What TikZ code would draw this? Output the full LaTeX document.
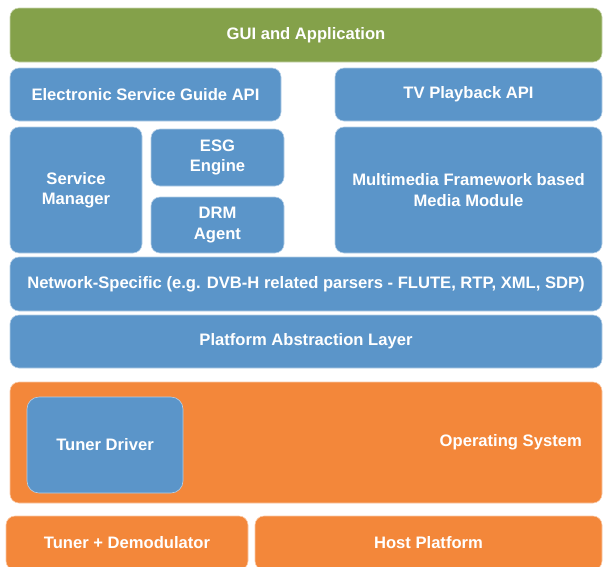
\documentclass[tikz,border=0pt]{standalone}
\usepackage{fontspec}
\setmainfont{Liberation Sans}
\usetikzlibrary{positioning}
\definecolor{guigreen}{HTML}{84A14A}
\definecolor{swblue}{HTML}{5B95C9}
\definecolor{hworange}{HTML}{F3873A}
\begin{document}
\begin{tikzpicture}[x=1pt,y=-1pt,
                    box/.style={rectangle,rounded corners=9pt,draw=white!55!#1,line width=0.6pt,fill=#1,
                                text=white,inner sep=0pt,align=center,
                                font=\fontsize{16.6}{20.5}\selectfont\bfseries},
                    gui/.style={box=guigreen},
                    sw/.style={box=swblue},
                    hw/.style={box=hworange}]

  \clip (0,0) rectangle (603,566);
  \fill[white] (0,0) rectangle (603,566);

  \node[gui, minimum width=592pt, minimum height=54pt] (gui) at (306,35) {GUI and Application};

  \node[sw, minimum width=271pt, minimum height=53pt] (esgapi) at (145.5,94.5) {Electronic Service Guide API};
  \node[sw, minimum width=267pt, minimum height=53pt] (tvapi) at (468.5,94.5) {TV Playback API};

  \node[sw, minimum width=132pt, minimum height=126pt] (svcmgr) at (76,190) {Service\\Manager};
  \node[sw, minimum width=133pt, minimum height=57pt] (esgeng) at (217.5,157.5) {ESG\\Engine};
  \node[sw, minimum width=133pt, minimum height=56pt] (drm) at (217.5,225) {DRM\\Agent};
  \node[sw, minimum width=267pt, minimum height=126pt] (media) at (468.5,190) {Multimedia Framework based\\Media Module};

  \node[sw, minimum width=592pt, minimum height=54pt] (netspec) at (306,284)
    {Network-Specific (e.g. DVB-H related parsers - FLUTE, RTP, XML, SDP)};
  \node[sw, minimum width=592pt, minimum height=53pt] (pal) at (306,341.5) {Platform Abstraction Layer};

  \node[hw, minimum width=592pt, minimum height=121pt] (os) at (306,442.5) {};
  \node[font=\fontsize{16.6}{20.5}\selectfont\bfseries, text=white, inner sep=0pt, anchor=east] (oslabel) at (582,442) {Operating System};
  \node[sw, rounded corners=12pt, minimum width=156pt, minimum height=96pt] (tuner) at (105,445) {Tuner Driver};

  \node[hw, minimum width=242pt, minimum height=54pt] (demod) at (127,543) {Tuner + Demodulator};
  \node[hw, minimum width=347pt, minimum height=54pt] (host) at (428.5,543) {Host Platform};
\end{tikzpicture}
\end{document}
